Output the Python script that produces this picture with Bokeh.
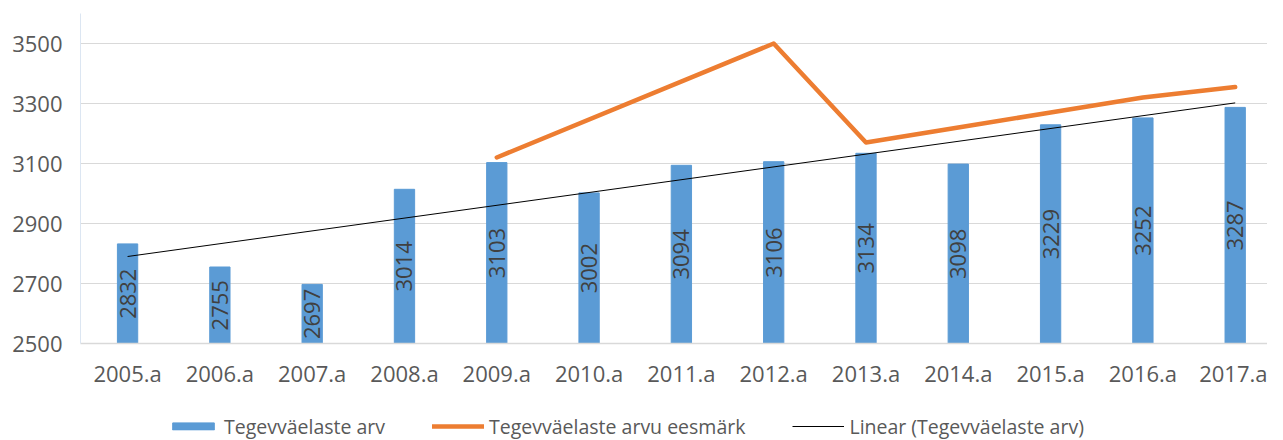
from bokeh.plotting import figure
from bokeh.layouts import column
from bokeh.models import (ColumnDataSource, Range1d, FixedTicker, LabelSet,
                          Legend, LegendItem)
from bokeh.embed import file_html
from bokeh.resources import INLINE
from bokeh.core.properties import value

# ---- data ----
years = ["2005.a", "2006.a", "2007.a", "2008.a", "2009.a", "2010.a", "2011.a",
         "2012.a", "2013.a", "2014.a", "2015.a", "2016.a", "2017.a"]
personnel = [2832, 2755, 2697, 3014, 3103, 3002, 3094, 3106, 3134, 3098, 3229, 3252, 3287]

target_years = ["2009.a", "2012.a", "2013.a", "2014.a", "2015.a", "2016.a", "2017.a"]
target_values = [3120, 3500, 3170, 3220, 3270, 3320, 3355]

trend_years = ["2005.a", "2017.a"]
trend_values = [2790, 3302]

y_ticks = [2500, 2700, 2900, 3100, 3300, 3500]
y_min, y_max = 2500, 3600

legend_labels = ["Tegevväelaste arv", "Tegevväelaste arvu eesmärk", "Linear (Tegevväelaste arv)"]

FONT = "Open Sans"
TXT = "#595959"
BLUE = "#5b9bd5"
ORANGE = "#ed7d31"

idx = {y: i for i, y in enumerate(years)}

bar_src = ColumnDataSource(dict(
    x=[idx[y] for y in years], top=personnel,
    mid=[(y_min + v) / 2 for v in personnel],
    lab=[str(v) for v in personnel],
))

p = figure(x_range=Range1d(-0.51, len(years) - 1 + 0.35), y_range=Range1d(y_min, y_max),
           width=1267, height=412, output_backend="svg", toolbar_location=None,
           min_border_left=80, min_border_right=0, min_border_top=13, min_border_bottom=69)
p.outline_line_color = None
p.background_fill_color = "white"
p.border_fill_color = "white"

p.vbar(x="x", top="top", bottom=y_min, width=0.22, source=bar_src,
       fill_color=BLUE, line_color=BLUE)
p.line([idx[y] for y in target_years], target_values, line_color=ORANGE, line_width=4.5,
       line_cap="round", line_join="round")
p.line([idx[y] for y in trend_years], trend_values, line_color="black", line_width=1)

labels = LabelSet(x="x", y="mid", text="lab", source=bar_src, angle=1.5708,
                  text_align="center", text_baseline="middle",
                  text_font=value(FONT), text_font_size="22px", text_color="#404040")
p.add_layout(labels)

p.yaxis.ticker = FixedTicker(ticks=y_ticks)
p.xaxis.ticker = FixedTicker(ticks=list(range(len(years))))
p.xaxis.major_label_overrides = {i: y for i, y in enumerate(years)}
p.ygrid.grid_line_color = "#d9d9d9"
p.ygrid.grid_line_width = 1
p.xgrid.grid_line_color = None

for ax in (p.xaxis, p.yaxis):
    ax.major_tick_line_color = None
    ax.minor_tick_line_color = None
    ax.major_tick_out = 0
    ax.major_tick_in = 0
    ax.minor_tick_out = 0
    ax.major_label_text_font = FONT
    ax.major_label_text_font_size = "22px"
    ax.major_label_text_color = TXT
p.xaxis.axis_line_color = "#d9d9d9"
p.xaxis.axis_line_width = 1.5
p.xaxis.major_label_standoff = 14
p.yaxis.axis_line_color = "#dce6f2"
p.yaxis.major_label_standoff = 18

# ---- legend strip below the chart ----
nan = float("nan")
lf = figure(width=1267, height=28, x_range=Range1d(0, 1), y_range=Range1d(0, 1),
            output_backend="svg", toolbar_location=None,
            min_border_left=0, min_border_right=0, min_border_top=0, min_border_bottom=0)
lf.axis.visible = False
lf.grid.visible = False
lf.outline_line_color = None
lf.border_fill_color = "white"
r_bar = lf.vbar(x=[nan], top=[nan], width=0.1, fill_color=BLUE, line_color=BLUE)
r_target = lf.line(x=[nan], y=[nan], line_color=ORANGE, line_width=4.5, line_cap="round")
r_trend = lf.line(x=[nan], y=[nan], line_color="black", line_width=1)

legend = Legend(items=[
    LegendItem(label=legend_labels[0], renderers=[r_bar]),
    LegendItem(label=legend_labels[1], renderers=[r_target]),
    LegendItem(label=legend_labels[2], renderers=[r_trend]),
], orientation="horizontal", location="left")
legend.border_line_color = None
legend.background_fill_alpha = 0
legend.label_text_font = FONT
legend.label_text_font_size = "19.5px"
legend.label_text_color = TXT
legend.glyph_width = 52
legend.glyph_height = 9
legend.label_standoff = 5
legend.spacing = 47
legend.padding = 0
legend.margin = 87
lf.add_layout(legend, "center")

open("out.html", "w").write(file_html(column(p, lf, spacing=0), INLINE))
